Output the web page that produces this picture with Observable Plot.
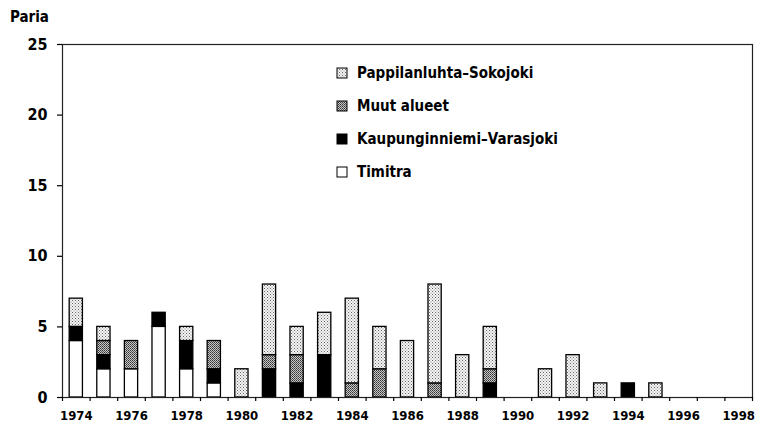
<!DOCTYPE html>
<html>
<head>
<meta charset="utf-8">
<script src="https://cdn.jsdelivr.net/npm/d3@7"></script>
<script src="https://cdn.jsdelivr.net/npm/@observablehq/plot@0.6"></script>
<style>
  body { margin: 0; background: #fff; }
  #wrap { position: relative; width: 763px; height: 431px; font-family: "DejaVu Sans Condensed", "Liberation Sans", Arial, sans-serif; font-weight: bold; }
  #unit { position: absolute; left: 10px; top: 8px; font-size: 15px; font-weight: bold; }
  svg text { font-weight: bold; }
</style>
</head>
<body>
<div id="wrap"><div id="unit">Paria</div></div>
<script>
const years = d3.range(1974, 1999);
const series = ["Timitra", "Kaupunginniemi–Varasjoki", "Muut alueet", "Pappilanluhta–Sokojoki"];
// values per year 1974..1998
const timitra = [4,2,2,5,2,1,0,0,0,0,0,0,0,0,0,0,0,0,0,0,0,0,0,0,0];
const kaupunginniemi = [1,1,0,1,2,1,0,2,1,3,0,0,0,0,0,1,0,0,0,0,1,0,0,0,0];
const muut = [0,1,2,0,0,2,0,1,2,0,1,2,0,1,0,1,0,0,0,0,0,0,0,0,0];
const pappilanluhta = [2,1,0,0,1,0,2,5,2,3,6,3,4,7,3,3,0,2,3,1,0,1,0,0,0];
const yTicks = [0, 5, 10, 15, 20, 25];
const xLabels = d3.range(1974, 1999, 2);
const legendOrder = ["Pappilanluhta–Sokojoki", "Muut alueet", "Kaupunginniemi–Varasjoki", "Timitra"];

const valuesBySeries = [timitra, kaupunginniemi, muut, pappilanluhta];
const data = [];
series.forEach((s, i) => years.forEach((y, j) => data.push({year: y, series: s, value: valuesBySeries[i][j]})));

const fills = ["white", "black", "url(#pat-muut)", "url(#pat-papp)"];
const font = "DejaVu Sans Condensed, Liberation Sans, Arial, sans-serif";

const plot = Plot.plot({
  width: 763,
  height: 431,
  marginLeft: 62,
  marginRight: 11,
  marginTop: 44,
  marginBottom: 34,
  style: {fontFamily: font, fontSize: "14px", fontWeight: "bold", background: "white"},
  x: {domain: [1973.5, 1998.5], axis: null},
  y: {domain: [0, 25], axis: null},
  color: {domain: series, range: fills},
  marks: [
    Plot.rectY(data, Plot.stackY({
      x1: d => d.year - 0.24,
      x2: d => d.year + 0.24,
      y: "value",
      fill: "series",
      order: series,
      stroke: "black",
      strokeWidth: 1.3,
      filter: d => d.value > 0
    })),
    Plot.frame({stroke: "#222", strokeWidth: 1.2}),
    Plot.axisX(d3.range(1973.5, 1999, 1), {tickSize: 4, tickFormat: () => "", strokeWidth: 1.2, label: null}),
    Plot.axisX(xLabels, {tickSize: 0, tickPadding: 13, tickFormat: d => String(d), fontSize: 13, label: null}),
    Plot.axisY(yTicks, {tickSize: 5, tickPadding: 10, fontSize: 16, strokeWidth: 1.2, label: null})
  ]
});

// pattern definitions
const defs = d3.select(plot).insert("defs", ":first-child");
const p1 = defs.append("pattern").attr("id", "pat-papp").attr("patternUnits", "userSpaceOnUse").attr("width", 3).attr("height", 3);
p1.append("rect").attr("width", 3).attr("height", 3).attr("fill", "#f4f4f4");
p1.append("rect").attr("x", 0).attr("y", 0).attr("width", 1).attr("height", 1).attr("fill", "#666");
p1.append("rect").attr("x", 1.5).attr("y", 1.5).attr("width", 1).attr("height", 1).attr("fill", "#888");
const p2 = defs.append("pattern").attr("id", "pat-muut").attr("patternUnits", "userSpaceOnUse").attr("width", 2).attr("height", 2);
p2.append("rect").attr("width", 2).attr("height", 2).attr("fill", "#c8c8c8");
p2.append("rect").attr("x", 0).attr("y", 0).attr("width", 1).attr("height", 1).attr("fill", "#333");
p2.append("rect").attr("x", 1).attr("y", 1).attr("width", 1).attr("height", 1).attr("fill", "#555");

// legend inside plot
const lg = d3.select(plot).append("g").attr("font-size", 15).attr("font-weight", "bold").attr("text-anchor", "start");
legendOrder.forEach((s, i) => {
  const yy = 73 + i * 33;
  lg.append("rect").attr("x", 337).attr("y", yy - 5).attr("width", 10).attr("height", 10)
    .attr("fill", fills[series.indexOf(s)]).attr("stroke", "black").attr("stroke-width", 1);
  lg.append("text").attr("x", 357).attr("y", yy).attr("dy", "0.35em").attr("text-anchor", "start").text(s);
});

document.getElementById("wrap").appendChild(plot);
</script>
</body>
</html>
